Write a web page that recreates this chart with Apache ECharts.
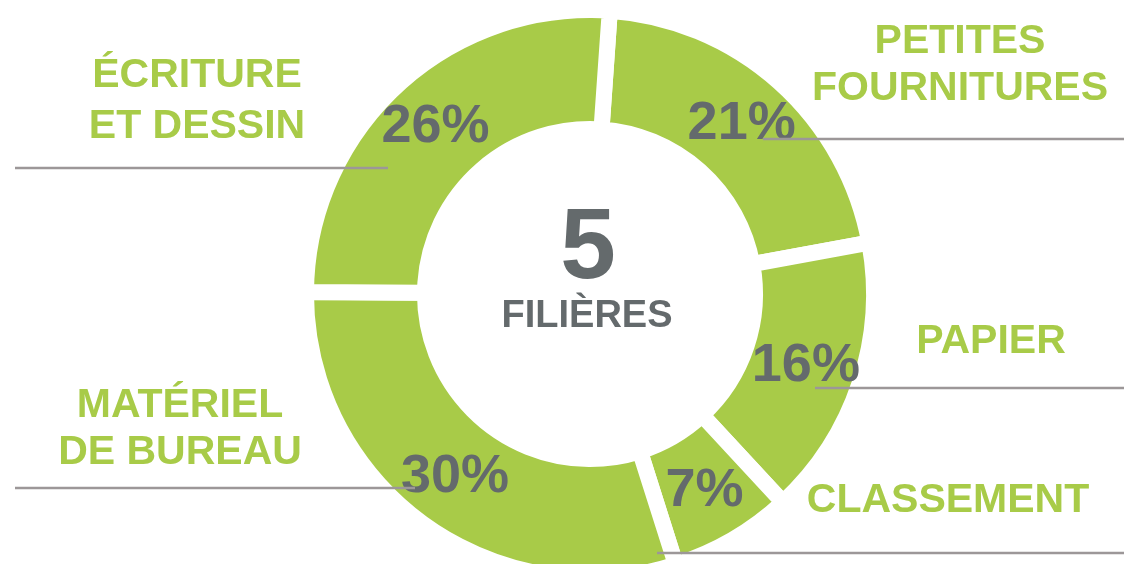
<!DOCTYPE html>
<html>
<head>
<meta charset="utf-8">
<script src="https://cdn.jsdelivr.net/npm/echarts@6/dist/echarts.min.js"></script>
<style>
html, body { margin: 0; padding: 0; background: #fff; }
#chart { width: 1124px; height: 564px; }
</style>
</head>
<body>
<div id="chart"></div>
<script>
// clockwise from the top
var categories = ['PETITES\nFOURNITURES', 'PAPIER', 'CLASSEMENT', 'MATÉRIEL\nDE BUREAU', 'ÉCRITURE\nET DESSIN'];
var shares = [21, 16, 7, 30, 26];
var centerWord = 'FILIÈRES';

var green = '#a8cb48';
var grey = '#646a6c';
var ruleGrey = '#9c9798';
var font = '"Liberation Sans", Arial, Helvetica, sans-serif';

// name block centre + rule (x1, x2, y) for each category
var nameSpots = [
    { x: 960, y: 65, lh: 47, rule: [763, 1124, 139] },
    { x: 991, y: 342, lh: 47, rule: [815, 1124, 388] },
    { x: 948, y: 501, lh: 47, rule: [657, 1124, 553] },
    { x: 180, y: 429, lh: 47, rule: [15, 415, 488] },
    { x: 197, y: 101, lh: 51, rule: [15, 388, 168] }
];

var graphics = [];
categories.forEach(function (name, i) {
    var s = nameSpots[i];
    graphics.push({
        type: 'text',
        z: 10,
        style: {
            text: name, x: s.x, y: s.y,
            fill: green, font: 'bold 41px ' + font,
            align: 'center', verticalAlign: 'middle', lineHeight: s.lh
        }
    });
    graphics.push({
        type: 'line',
        z: 10,
        shape: { x1: s.rule[0], y1: s.rule[2], x2: s.rule[1], y2: s.rule[2] },
        style: { stroke: ruleGrey, lineWidth: 2.5 }
    });
});
// centre: number of categories
graphics.push({
    type: 'text', z: 10,
    style: { text: String(categories.length), x: 588, y: 250, fill: grey,
        font: 'bold 100px ' + font, align: 'center', verticalAlign: 'middle' }
});
graphics.push({
    type: 'text', z: 10,
    style: { text: centerWord, x: 587, y: 317, fill: grey,
        font: 'bold 38px ' + font, align: 'center', verticalAlign: 'middle' }
});

var chart = echarts.init(document.getElementById('chart'));
chart.setOption({
    animation: false,
    backgroundColor: '#fff',
    graphic: graphics,
    series: [{
        type: 'pie',
        silent: true,
        center: [590, 294],
        radius: [165, 284],
        startAngle: 86,
        clockwise: true,
        itemStyle: { color: green, borderColor: '#fff', borderWidth: 16 },
        label: {
            position: 'inside',
            formatter: '{c}%',
            color: grey,
            fontSize: 54,
            fontWeight: 'bold',
            fontFamily: '"Liberation Sans Narrow", "Arial Narrow", "Liberation Sans", Arial, sans-serif'
        },
        labelLine: { show: false },
        emphasis: { disabled: true },
        data: categories.map(function (c, i) {
            return { name: c, value: shares[i] };
        })
    }]
});
</script>
</body>
</html>
